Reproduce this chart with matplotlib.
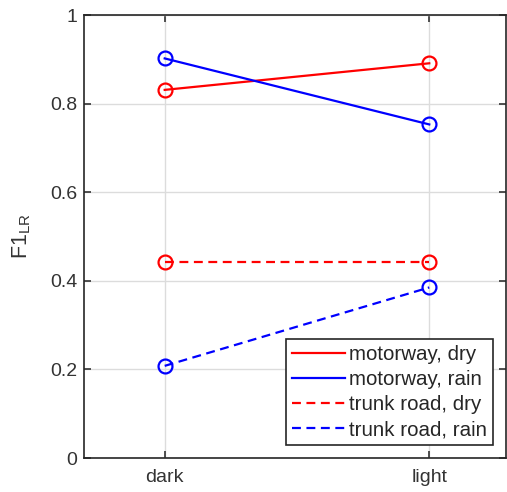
import matplotlib
matplotlib.use("Agg")
import matplotlib.pyplot as plt

categories = ["dark", "light"]
motorway_dry = [0.831, 0.891]
motorway_rain = [0.902, 0.753]
trunk_dry = [0.442, 0.442]
trunk_rain = [0.208, 0.385]
yticks = [0, 0.2, 0.4, 0.6, 0.8, 1]
ytick_labels = ["0", "0.2", "0.4", "0.6", "0.8", "1"]

plt.rcParams['font.family'] = ['Liberation Sans', 'DejaVu Sans']
fig = plt.figure(figsize=(5.07, 4.92), dpi=100)
ax = fig.add_axes([0.1657, 0.0691, 0.8323, 0.9004])

x = [1, 2]
kw = dict(marker='o', markerfacecolor='none', markersize=10, linewidth=1.6, markeredgewidth=1.6)
ax.plot(x, motorway_dry, color='#ff0000', linestyle='-', label='motorway, dry', **kw)
ax.plot(x, motorway_rain, color='#0000ff', linestyle='-', label='motorway, rain', **kw)
ax.plot(x, trunk_dry, color='#ff0000', linestyle=(0, (4, 2.5)), label='trunk road, dry', **kw)
ax.plot(x, trunk_rain, color='#0000ff', linestyle=(0, (4, 2.5)), label='trunk road, rain', **kw)

ax.set_xlim(0.695, 2.29)
ax.set_ylim(0, 1)
ax.set_xticks(x)
ax.set_xticklabels(categories)
ax.set_yticks(yticks)
ax.set_yticklabels(ytick_labels)
ax.grid(True, color='#dcdcdc', linewidth=1.0)
ax.set_axisbelow(True)
for s in ax.spines.values():
    s.set_color('#262626')
    s.set_linewidth(1.2)
ax.tick_params(direction='in', length=5, width=1.2, colors='#333333', labelsize=14,
               top=True, right=True, pad=5)
ax.tick_params(axis='x', pad=8)
ax.set_ylabel(r'F1$_{\mathregular{LR}}$', fontsize=15.5, color='#333333', labelpad=12)

leg = ax.legend(loc='lower right', fontsize=14.8, frameon=True, fancybox=False,
                edgecolor='#262626', framealpha=1, borderaxespad=0.62,
                handlelength=2.6, handletextpad=0.2, labelspacing=0.30, borderpad=0.28)
leg.get_frame().set_linewidth(1.2)
for t in leg.get_texts():
    t.set_color('#262626')
for h in leg.get_lines():
    h.set_marker('')

fig.savefig('out.png', dpi=100)
